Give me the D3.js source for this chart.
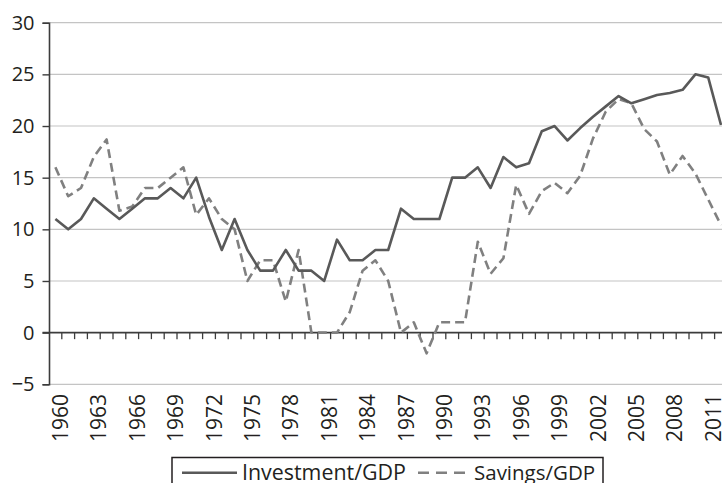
<!DOCTYPE html>
<html>
<head>
<meta charset="utf-8">
<script src="https://cdn.jsdelivr.net/npm/d3@7"></script>
<style>
  html, body { margin: 0; padding: 0; background: #fff; }
  svg { display: block; font-family: "Open Sans", "DejaVu Sans", sans-serif; }
</style>
</head>
<body>
<svg id="chart" width="722" height="483"></svg>
<script>
// Years on the category axis
const years = d3.range(1960, 2013);

// Gross investment as a share of GDP (%)
const investment = [
  11, 10, 11, 13, 12, 11, 12, 13, 13, 14,
  13, 15, 11.2, 8, 11, 8, 6, 6, 8, 6,
  6, 5, 9, 7, 7, 8, 8, 12, 11, 11,
  11, 15, 15, 16, 14, 17, 16, 16.4, 19.5, 20,
  18.6, 19.8, 20.9, 21.9, 22.9, 22.2, 22.6, 23, 23.2, 23.5,
  25, 24.7, 20.1
];

// Gross savings as a share of GDP (%)
const savings = [
  16, 13.2, 14, 17, 18.7, 11.8, 12.2, 14, 14, 15,
  16, 11.4, 13, 11, 10, 5, 7, 7, 3, 8,
  0, 0, 0, 2, 6, 7, 5, 0, 1, -2,
  1, 1, 1, 8.8, 5.7, 7.2, 14.3, 11.5, 13.7, 14.5,
  13.5, 15.2, 18.8, 21.4, 22.6, 22.2, 19.7, 18.5, 15.3, 17.1,
  15.4, 12.9, 10.4
];

const yTicks = [-5, 0, 5, 10, 15, 20, 25, 30];
const labelYears = years.filter(yr => (yr - 1960) % 3 === 0);

const seriesNames = ["Investment/GDP", "Savings/GDP"];

const svg = d3.select("#chart");

const plotLeft = 49, plotTop = 22.7, plotBottom = 384.3;
const bandW = 12.8;

const x = d3.scaleBand()
  .domain(years)
  .range([plotLeft, plotLeft + bandW * years.length])
  .padding(0);
const cx = yr => x(yr) + x.bandwidth() / 2;

const y = d3.scaleLinear().domain([-5, 30]).range([plotBottom, plotTop]);

const textColor = "#231f20";
const axisColor = "#3c3c3c";

// Horizontal gridlines (zero is drawn as the category axis)
svg.append("g")
  .selectAll("line")
  .data(yTicks.filter(v => v !== 0))
  .join("line")
  .attr("x1", plotLeft).attr("x2", 722)
  .attr("y1", d => y(d)).attr("y2", d => y(d))
  .attr("stroke", "#c4c4c4")
  .attr("stroke-width", 1.2);

// Value axis
const yAxis = svg.append("g")
  .attr("transform", `translate(${plotLeft},0)`)
  .call(d3.axisLeft(y).tickValues(yTicks).tickSize(6.5).tickPadding(8)
    .tickFormat(d => d < 0 ? "\u2212" + Math.abs(d) : d));
yAxis.select(".domain").attr("stroke", axisColor).attr("stroke-width", 1.6);
yAxis.selectAll(".tick line").attr("stroke", axisColor).attr("stroke-width", 1.4);
yAxis.selectAll(".tick text")
  .attr("fill", textColor)
  .style("font-size", "20px")
  .style("font-family", "'Open Sans', sans-serif");

// Category axis along zero, with ticks between years
const zeroY = y(0);
svg.append("line")
  .attr("x1", plotLeft - 6.5).attr("x2", 722)
  .attr("y1", zeroY).attr("y2", zeroY)
  .attr("stroke", axisColor).attr("stroke-width", 1.6);
svg.append("g")
  .selectAll("line")
  .data(years.slice(1))
  .join("line")
  .attr("x1", d => x(d)).attr("x2", d => x(d))
  .attr("y1", zeroY).attr("y2", zeroY + 6.5)
  .attr("stroke", axisColor).attr("stroke-width", 1.3);

// Rotated year labels below the plot
svg.append("g")
  .selectAll("text")
  .data(labelYears)
  .join("text")
  .attr("transform", d => `translate(${cx(d) + 5},394) rotate(-90)`)
  .attr("text-anchor", "end")
  .attr("dy", "0.36em")
  .attr("fill", textColor)
  .style("font-size", "21px")
  .text(d => d);

// Series lines
const line = d3.line()
  .x((d, i) => cx(years[i]))
  .y(d => y(d));

svg.append("path")
  .datum(savings)
  .attr("fill", "none")
  .attr("stroke", "#808080")
  .attr("stroke-width", 2.6)
  .attr("stroke-dasharray", "9,5")
  .attr("stroke-linejoin", "round")
  .attr("d", line);

svg.append("path")
  .datum(investment)
  .attr("fill", "none")
  .attr("stroke", "#595959")
  .attr("stroke-width", 2.6)
  .attr("stroke-linejoin", "round")
  .attr("d", line);

// Legend, running off the bottom edge of the frame
const legend = svg.append("g");
legend.append("rect")
  .attr("x", 172).attr("y", 457.5)
  .attr("width", 431).attr("height", 40)
  .attr("fill", "#fff")
  .attr("stroke", "#231f20").attr("stroke-width", 1.5);
legend.append("line")
  .attr("x1", 182).attr("x2", 237)
  .attr("y1", 472.7).attr("y2", 472.7)
  .attr("stroke", "#595959").attr("stroke-width", 2.6);
legend.append("text")
  .attr("x", 242).attr("y", 479.5)
  .attr("fill", textColor)
  .style("font-size", "21.4px")
  .text(seriesNames[0]);
legend.append("line")
  .attr("x1", 418).attr("x2", 469)
  .attr("y1", 472.7).attr("y2", 472.7)
  .attr("stroke", "#808080").attr("stroke-width", 2.6)
  .attr("stroke-dasharray", "11,7");
legend.append("text")
  .attr("x", 474).attr("y", 479.5)
  .attr("fill", textColor)
  .style("font-size", "20.5px")
  .text(seriesNames[1]);
</script>
</body>
</html>
